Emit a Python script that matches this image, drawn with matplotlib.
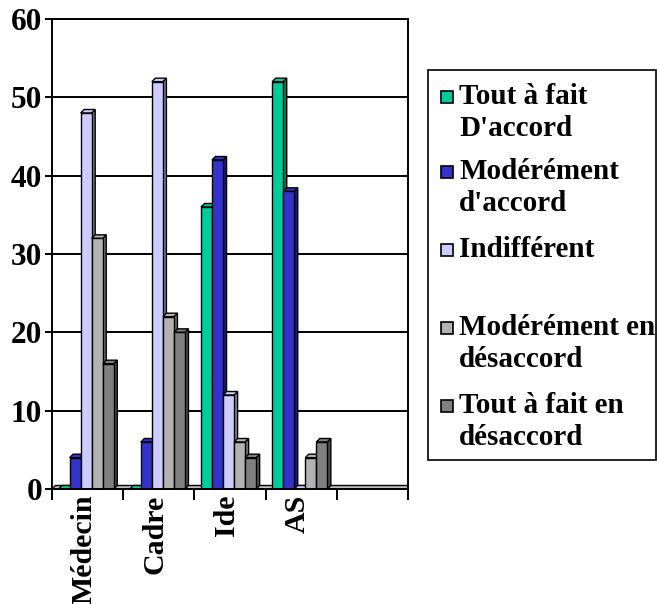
import matplotlib.pyplot as plt
from matplotlib.patches import Rectangle, Polygon

categories = ['Médecin', 'Cadre', 'Ide', 'AS', '']
series = ["Tout à fait\nD'accord", "Modérément\nd'accord", "Indifférent",
          "Modérément en\ndésaccord", "Tout à fait en\ndésaccord"]
tout_accord = [0, 0, 36, 52, 0]
mod_accord = [4, 6, 42, 38, 0]
indifferent = [48, 52, 12, 0, 0]
mod_desaccord = [32, 22, 6, 4, 0]
tout_desaccord = [16, 20, 4, 6, 0]
values = [tout_accord, mod_accord, indifferent, mod_desaccord, tout_desaccord]

colors = ['#00CC99', '#3333CC', '#CCCCFF', '#B2B2B2', '#808080']
sides = ['#00805F', '#1A1A80', '#8080A0', '#737373', '#4D4D4D']

W, H = 657, 604
fig = plt.figure(figsize=(W / 100, H / 100), dpi=100)
plt.rcParams['font.family'] = ['Liberation Serif', 'DejaVu Serif']

x_left, x_right, y_top, y_bot = 52, 408, 19, 489
ax = fig.add_axes([x_left / W, 1 - y_bot / H, (x_right - x_left) / W, (y_bot - y_top) / H])
ax.set_xlim(0.5, 5.5)
ax.set_ylim(0, 60)

# depth of the fake 3d faces, in data units
dx = 3.5 / ((x_right - x_left) / 5)
dy = 3.5 / ((y_bot - y_top) / 60)

for yv in range(10, 70, 10):
    ax.axhline(yv, color='black', lw=1.4, zorder=0)

# floor slab
ax.add_patch(Polygon([(0.5, 0), (5.5, 0), (5.5 + dx, dy), (0.5 + dx, dy)],
                     closed=True, facecolor='#C0C0C0', edgecolor='black', lw=1, zorder=1))

w = 0.155
for ci in range(len(categories)):
    if categories[ci] == '':
        continue
    for si in range(len(series)):
        h = values[si][ci]
        x0 = ci + 1 + (si - 2.5) * w - 0.02
        ax.add_patch(Polygon([(x0 + w, 0), (x0 + w + dx, dy), (x0 + w + dx, h + dy), (x0 + w, h)],
                             closed=True, facecolor=sides[si], edgecolor='black', lw=1, zorder=2))
        ax.add_patch(Polygon([(x0, h), (x0 + dx, h + dy), (x0 + w + dx, h + dy), (x0 + w, h)],
                             closed=True, facecolor=colors[si], edgecolor='black', lw=1, zorder=2))
        if h > 0:
            ax.add_patch(Rectangle((x0, 0), w, h, facecolor=colors[si],
                                   edgecolor='black', lw=1, zorder=2))

for s in ax.spines.values():
    s.set_linewidth(1.4)

ax.set_yticks(range(0, 70, 10))
ax.set_yticklabels([str(v) for v in range(0, 70, 10)], fontsize=22.5, fontweight='bold')
ax.tick_params(axis='y', direction='out', length=5, width=1.4, pad=2)

ax.set_xticks([i + 0.5 for i in range(6)], minor=True)
ax.set_xticks([i + 0.95 for i in range(5)])
ax.set_xticklabels(categories, rotation=90, fontsize=21.5, fontweight='bold', va='top')
ax.tick_params(axis='x', which='major', length=0, pad=4)
ax.tick_params(axis='x', which='minor', direction='out', length=8, width=1.4)

# legend box drawn by hand
lx0, ly0, lx1, ly1 = 428, 70, 656, 460
fig.patches.append(Rectangle((lx0 / W, 1 - ly1 / H), (lx1 - lx0) / W, (ly1 - ly0) / H,
                             transform=fig.transFigure, facecolor='white',
                             edgecolor='black', lw=1.2))
marker_y = [97, 172, 250, 328, 406]
for si, name in enumerate(series):
    my = marker_y[si]
    fig.patches.append(Rectangle((441 / W, 1 - (my + 6) / H), 12 / W, 12 / H,
                                 transform=fig.transFigure, facecolor=colors[si],
                                 edgecolor='black', lw=1.2))
    fig.text(459 / W, 1 - (my - 14) / H, name, fontsize=21, fontweight='bold',
             va='top', ha='left', linespacing=1.25)

fig.savefig('out.png', dpi=100)
